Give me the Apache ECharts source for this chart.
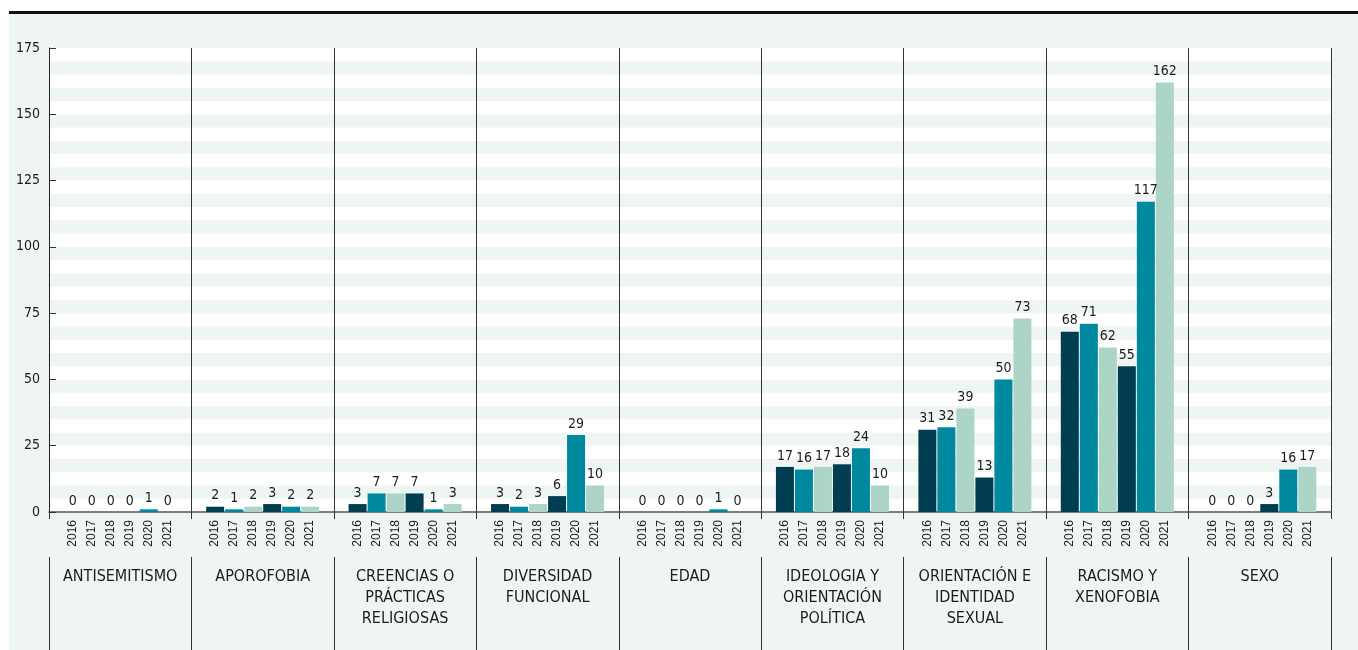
<!DOCTYPE html>
<html>
<head>
<meta charset="utf-8">
<script src="https://cdn.jsdelivr.net/npm/echarts@6/dist/echarts.min.js"></script>
<style>
  html, body { margin: 0; padding: 0; background: #fff; }
  #chart { position: absolute; left: 9px; top: 11px; width: 1349px; height: 636px; border-top: 3px solid #111; }
</style>
</head>
<body>
<div id="chart"></div>
<script>
// categorias y datos por año
var categories = ['ANTISEMITISMO', 'APOROFOBIA', 'CREENCIAS O\nPRÁCTICAS\nRELIGIOSAS', 'DIVERSIDAD\nFUNCIONAL', 'EDAD',
  'IDEOLOGIA Y\nORIENTACIÓN\nPOLÍTICA', 'ORIENTACIÓN E\nIDENTIDAD\nSEXUAL', 'RACISMO Y\nXENOFOBIA', 'SEXO'];
var years = ['2016', '2017', '2018', '2019', '2020', '2021'];
var v2016 = [0, 2, 3, 3, 0, 17, 31, 68, 0];
var v2017 = [0, 1, 7, 2, 0, 16, 32, 71, 0];
var v2018 = [0, 2, 7, 3, 0, 17, 39, 62, 0];
var v2019 = [0, 3, 7, 6, 0, 18, 13, 55, 3];
var v2020 = [1, 2, 1, 29, 1, 24, 50, 117, 16];
var v2021 = [0, 2, 3, 10, 0, 10, 73, 162, 17];
var yTicks = [0, 25, 50, 75, 100, 125, 150, 175];

var values = [v2016, v2017, v2018, v2019, v2020, v2021];
var colors = ['#023e52', '#00889e', '#acd5c8', '#023e52', '#00889e', '#acd5c8'];
var narrow = "'Liberation Sans Narrow', 'DejaVu Sans Condensed', sans-serif";
var ink = '#1c1c1c';

var series = [];
for (let i = 0; i < years.length; i++) {
  // barra invisible para la etiqueta del año
  series.push({
    type: 'bar',
    stack: 'y' + years[i],
    xAxisIndex: 0, yAxisIndex: 0,
    barWidth: 18, barGap: '5.6%',
    data: categories.map(function () { return 0; }),
    itemStyle: { color: 'transparent' },
    silent: true,
    label: {
      show: true, position: 'bottom', distance: 8, rotate: 90,
      align: 'right', verticalAlign: 'middle',
      formatter: years[i],
      fontFamily: "'Liberation Sans', Arial, sans-serif", fontSize: 12, color: ink
    }
  });
  series.push({
    type: 'bar',
    name: years[i],
    stack: 'y' + years[i],
    xAxisIndex: 0, yAxisIndex: 0,
    barWidth: 18, barGap: '5.6%',
    data: values[i],
    itemStyle: { color: colors[i] },
    label: {
      show: true, position: 'top', distance: 4,
      fontFamily: narrow, fontSize: 14, color: ink
    }
  });
}

var chart = echarts.init(document.getElementById('chart'));
var option = {
  backgroundColor: '#eff5f3',
  animation: false,
  grid: [
    { left: 40, right: 27, top: 34, bottom: 138, show: true, backgroundColor: '#fff', borderWidth: 0 },
    { left: 40, right: 27, top: 543, bottom: 0 }
  ],
  xAxis: [
    {
      type: 'category', gridIndex: 0, data: categories,
      axisLine: { lineStyle: { color: '#555', width: 1.5 } },
      axisTick: { show: true, length: 7, lineStyle: { color: '#333' } },
      axisLabel: { show: false },
      splitLine: { show: true, lineStyle: { color: '#333', width: 1 } }
    },
    {
      type: 'category', gridIndex: 1, data: categories, position: 'top',
      axisLine: { lineStyle: { color: '#333', width: 1 } },
      axisTick: { show: true, length: 9, lineStyle: { color: '#333' } },
      axisLabel: { inside: true, margin: 9, fontFamily: narrow, fontSize: 16, lineHeight: 21, color: ink, interval: 0 },
      splitLine: { show: true, lineStyle: { color: '#333', width: 1 } }
    }
  ],
  yAxis: [
    {
      type: 'value', gridIndex: 0, min: 0, max: 175, interval: 25,
      axisLine: { show: true, lineStyle: { color: '#222' } },
      axisTick: { show: true, inside: true, length: 7, lineStyle: { color: '#333' } },
      axisLabel: { margin: 9, fontFamily: narrow, fontSize: 14, color: ink,
        formatter: function (v) { return yTicks.indexOf(v) >= 0 ? v : ''; } },
      splitLine: { show: false }
    },
    {
      // franjas de fondo cada 5
      type: 'value', gridIndex: 0, min: 0, max: 175, interval: 5, position: 'right',
      axisLine: { show: false }, axisTick: { show: false }, axisLabel: { show: false },
      splitLine: { show: false },
      splitArea: { show: true, areaStyle: { color: ['#ffffff', '#eff5f3'] } }
    },
    {
      type: 'value', gridIndex: 1, show: false
    }
  ],
  series: series
};
chart.setOption(option);
</script>
</body>
</html>
